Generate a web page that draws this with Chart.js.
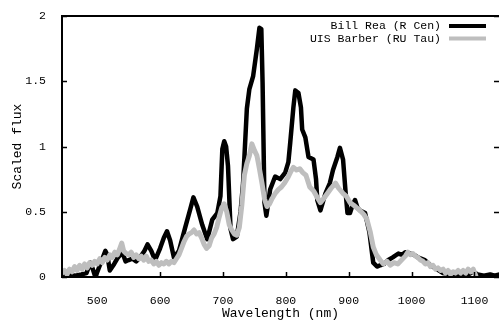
<!DOCTYPE html>
<html>
<head>
<meta charset="utf-8">
<script src="https://cdn.jsdelivr.net/npm/chart.js@4"></script>
<style>
  html, body { margin: 0; padding: 0; background: #fff; }
  #wrap { width: 499px; height: 320px; position: relative; }
</style>
</head>
<body>
<div id="wrap"><canvas id="spectrumChart"></canvas></div>
<script>
// wavelength (nm) / scaled flux
const reaWave = [444, 455, 465, 475, 483, 489, 493, 497, 505, 513, 516, 520, 527, 533, 540, 545, 550, 556, 562, 568,
    575, 580, 586, 592, 600, 606, 611, 616, 622, 630, 640, 648, 653, 659, 667, 675, 683, 691, 696, 699,
    702, 705, 708, 712, 716, 722, 728, 732, 738, 742, 748, 754, 758, 761, 763, 766, 769, 775, 779, 783,
    791, 799, 804, 807, 812, 815, 820, 824, 826, 831, 836, 844, 848, 850, 855, 863, 870, 875, 882, 886,
    891, 895, 898, 902, 906, 910, 914, 918, 926, 933, 939, 945, 950, 956, 963, 970, 979, 985, 990, 998,
    1004, 1010, 1021, 1030, 1040, 1050, 1060, 1070, 1080, 1090, 1098, 1105, 1115, 1125, 1132, 1140];
const reaFlux = [0.01, 0.02, 0.01, 0.02, 0.03, 0.11, 0.06, 0.0, 0.1, 0.2, 0.17, 0.05, 0.1, 0.15, 0.19, 0.12, 0.13, 0.14, 0.12, 0.15,
    0.2, 0.25, 0.2, 0.13, 0.22, 0.3, 0.35, 0.28, 0.15, 0.2, 0.38, 0.52, 0.61, 0.54, 0.4, 0.29, 0.44, 0.49, 0.62, 0.98,
    1.04, 1.0, 0.85, 0.37, 0.29, 0.31, 0.5, 0.72, 1.29, 1.44, 1.54, 1.75, 1.91, 1.9, 1.49, 0.57, 0.47, 0.67, 0.72, 0.77,
    0.75, 0.8, 0.88, 1.03, 1.3, 1.43, 1.41, 1.3, 1.13, 1.07, 0.92, 0.9, 0.75, 0.59, 0.51, 0.64, 0.72, 0.82, 0.92, 0.99,
    0.9, 0.65, 0.49, 0.49, 0.55, 0.59, 0.53, 0.51, 0.49, 0.34, 0.11, 0.08, 0.09, 0.1, 0.13, 0.15, 0.18, 0.17, 0.19, 0.18,
    0.17, 0.15, 0.13, 0.09, 0.06, 0.03, 0.02, 0.01, 0.02, 0.02, 0.04, 0.02, 0.01, 0.02, 0.01, 0.02];

const barberWave = [444, 448, 452, 456, 460, 464, 468, 472, 476, 480, 484, 488, 492, 496, 500, 504, 508, 512, 516, 520,
    524, 528, 532, 536, 539, 542, 546, 550, 554, 558, 562, 566, 570, 574, 578, 582, 586, 590, 594, 598,
    602, 606, 610, 614, 618, 622, 626, 630, 634, 638, 642, 646, 650, 654, 658, 662, 666, 670, 674, 678,
    682, 686, 690, 694, 698, 702, 706, 710, 714, 718, 722, 726, 730, 734, 738, 742, 746, 750, 754, 758,
    762, 766, 770, 774, 778, 783, 788, 793, 798, 803, 808, 812, 817, 822, 827, 832, 838, 844, 850, 855,
    860, 866, 872, 879, 884, 891, 896, 902, 908, 913, 918, 924, 929, 934, 939, 944, 950, 955, 961, 966,
    972, 978, 984, 990, 994, 998, 1002, 1006, 1010, 1014, 1018, 1022, 1026, 1030, 1034, 1038, 1042, 1046, 1050, 1054,
    1058, 1062, 1066, 1070, 1074, 1078, 1082, 1086, 1090, 1094, 1098, 1102];
const barberFlux = [0.03, 0.05, 0.02, 0.06, 0.04, 0.08, 0.05, 0.09, 0.06, 0.1, 0.07, 0.11, 0.09, 0.12, 0.1, 0.14, 0.11, 0.15, 0.13, 0.17,
    0.15, 0.19, 0.17, 0.22, 0.26, 0.2, 0.18, 0.17, 0.19, 0.15, 0.17, 0.14, 0.16, 0.13, 0.16, 0.12, 0.13, 0.1, 0.12, 0.09,
    0.11, 0.1, 0.12, 0.1, 0.12, 0.11, 0.14, 0.17, 0.22, 0.27, 0.31, 0.33, 0.34, 0.36, 0.33, 0.34, 0.3, 0.25, 0.22, 0.24,
    0.3, 0.33, 0.38, 0.46, 0.53, 0.56, 0.5, 0.4, 0.36, 0.33, 0.32, 0.38, 0.55, 0.78, 0.87, 0.93, 1.02, 0.97, 0.93, 0.83,
    0.72, 0.6, 0.54, 0.56, 0.6, 0.64, 0.67, 0.69, 0.72, 0.76, 0.81, 0.84, 0.82, 0.83, 0.8, 0.78, 0.69, 0.66, 0.61, 0.57,
    0.6, 0.64, 0.68, 0.72, 0.68, 0.64, 0.62, 0.57, 0.55, 0.53, 0.51, 0.48, 0.44, 0.35, 0.23, 0.17, 0.13, 0.1, 0.12, 0.09,
    0.11, 0.1, 0.13, 0.16, 0.19, 0.17, 0.18, 0.16, 0.15, 0.13, 0.12, 0.1, 0.11, 0.08, 0.09, 0.06, 0.07, 0.05, 0.06, 0.03,
    0.05, 0.02, 0.04, 0.03, 0.05, 0.03, 0.05, 0.03, 0.06, 0.04, 0.06, 0.01];

const xTicks = [500, 600, 700, 800, 900, 1000, 1100];
const yTicks = [0, 0.5, 1, 1.5, 2];
const seriesNames = ['Bill Rea (R Cen)', 'UIS Barber (RU Tau)'];
const seriesColors = ['#000000', '#bebebe'];

const FONT = '"Liberation Mono", "DejaVu Sans Mono", monospace';

const toPoints = (xs, ys) => xs.map((x, i) => ({ x: x, y: ys[i] }));

// frame, inward ticks, axis titles and legend, gnuplot style
const framePlugin = {
    id: 'frame',
    afterDraw(chart) {
        const ctx = chart.ctx;
        const a = chart.chartArea;
        const xs = chart.scales.x, ys = chart.scales.y;
        ctx.save();
        ctx.strokeStyle = '#000';
        ctx.lineWidth = 2;
        ctx.beginPath();
        ctx.moveTo(a.right + 2, a.top);
        ctx.lineTo(a.left, a.top);
        ctx.lineTo(a.left, a.bottom);
        ctx.lineTo(a.right + 2, a.bottom);
        ctx.stroke();

        ctx.lineWidth = 1.5;
        ctx.beginPath();
        xTicks.forEach(v => {
            const px = Math.round(xs.getPixelForValue(v)) + 0.5;
            ctx.moveTo(px, a.bottom);
            ctx.lineTo(px, a.bottom - 5);
        });
        yTicks.forEach(v => {
            const py = Math.round(ys.getPixelForValue(v)) + 0.5;
            ctx.moveTo(a.left, py);
            ctx.lineTo(a.left + 5, py);
            ctx.moveTo(a.right, py);
            ctx.lineTo(a.right - 5, py);
        });
        ctx.stroke();

        ctx.fillStyle = '#000';
        ctx.font = '13px ' + FONT;
        ctx.textAlign = 'center';
        ctx.textBaseline = 'middle';
        ctx.fillText('Wavelength (nm)', (a.left + a.right) / 2, 314);
        ctx.save();
        ctx.translate(18, (a.top + a.bottom) / 2);
        ctx.rotate(-Math.PI / 2);
        ctx.fillText('Scaled flux', 0, 0);
        ctx.restore();

        ctx.font = '11.5px ' + FONT;
        ctx.textAlign = 'right';
        ctx.lineWidth = 4;
        seriesNames.forEach((name, i) => {
            const y = 26 + i * 12.5;
            ctx.fillStyle = '#000';
            ctx.fillText(name, 441, y);
            ctx.strokeStyle = seriesColors[i];
            ctx.beginPath();
            ctx.moveTo(449, y);
            ctx.lineTo(486, y);
            ctx.stroke();
        });
        ctx.restore();
    }
};

new Chart(document.getElementById('spectrumChart').getContext('2d'), {
    type: 'line',
    data: {
        datasets: [{
            label: seriesNames[0],
            data: toPoints(reaWave, reaFlux),
            borderColor: seriesColors[0],
            borderWidth: 4.5,
            order: 2,
        }, {
            label: seriesNames[1],
            data: toPoints(barberWave, barberFlux),
            borderColor: seriesColors[1],
            borderWidth: 5,
            order: 1,
        }]
    },
    options: {
        responsive: true,
        maintainAspectRatio: false,
        animation: false,
        parsing: false,
        layout: { padding: { top: 16, left: 0, right: 0, bottom: 0 } },
        elements: {
            point: { radius: 0 },
            line: { tension: 0, borderJoinStyle: 'round', borderCapStyle: 'round' }
        },
        plugins: { legend: { display: false }, tooltip: { enabled: false } },
        scales: {
            x: {
                type: 'linear',
                min: 444,
                max: 1139,
                grid: { display: false },
                border: { display: false },
                afterBuildTicks: s => { s.ticks = xTicks.map(v => ({ value: v })); },
                afterFit: s => { s.height = 43; },
                ticks: { color: '#000', font: { family: FONT, size: 11.5 }, padding: 9, maxRotation: 0,
                    callback: v => String(v) }
            },
            y: {
                min: 0,
                max: 2,
                grid: { display: false },
                border: { display: false },
                afterBuildTicks: s => { s.ticks = yTicks.map(v => ({ value: v })); },
                afterFit: s => { s.width = 62; },
                ticks: { color: '#000', font: { family: FONT, size: 11.5 }, padding: 8,
                    callback: v => String(v) }
            }
        }
    },
    plugins: [framePlugin]
});
</script>
</body>
</html>
